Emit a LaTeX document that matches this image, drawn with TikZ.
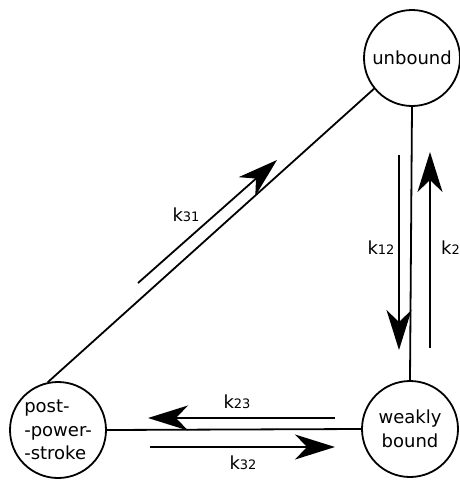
\documentclass[tikz,border=0pt]{standalone}
\usepackage{fontspec}
\setmainfont{DejaVu Sans}
\usetikzlibrary{arrows.meta}
\begin{document}
\begin{tikzpicture}[x=1pt,y=-1pt,
  state/.style={circle,draw,line width=1.8pt,minimum size=96pt,inner sep=0pt,font=\fontsize{18}{23.5}\selectfont,align=center},
  edge/.style={line width=1.8pt},
  rate/.style={line width=1.8pt,-{Stealth[length=40pt,width=25pt,inset=12pt]}},
  lbl/.style={font=\fontsize{18}{20}\selectfont,inner sep=0pt}]
\useasboundingbox (0,0) rectangle (459,480);
\node[state] (u) at (412,58) {unbound};
\node[state] (w) at (410,429) {weakly\\bound};
\node[state,align=left] (p) at (58,430) {post-\\-power-\\-stroke};
\draw[edge] (u.219) -- (p.102);
\draw[edge] (u.south) -- (w.north);
\draw[edge] (p.east) -- (w.west);
% rate arrows
\coordinate (a31s) at (138,283); \coordinate (a31e) at (277,160);
\coordinate (a12s) at (399,155); \coordinate (a12e) at (399,350);
\coordinate (a21s) at (430,348); \coordinate (a21e) at (430,152);
\coordinate (a23s) at (335,418); \coordinate (a23e) at (148,418);
\coordinate (a32s) at (150,447); \coordinate (a32e) at (335,447);
\draw[rate] (a31s) -- (a31e);
\draw[rate] (a12s) -- (a12e);
\draw[rate] (a21s) -- (a21e);
\draw[rate] (a23s) -- (a23e);
\draw[rate] (a32s) -- (a32e);
\node[lbl] (l31) at (186,215) {k{\fontsize{13}{13}\selectfont 31}};
\node[lbl] (l12) at (381,248) {k{\fontsize{13}{13}\selectfont 12}};
\node[lbl,anchor=west] (l21) at (441,248) {k{\fontsize{13}{13}\selectfont 2}};
\node[lbl] (l23) at (237,402) {k{\fontsize{13}{13}\selectfont 23}};
\node[lbl] (l32) at (243,463) {k{\fontsize{13}{13}\selectfont 32}};
\end{tikzpicture}
\end{document}
